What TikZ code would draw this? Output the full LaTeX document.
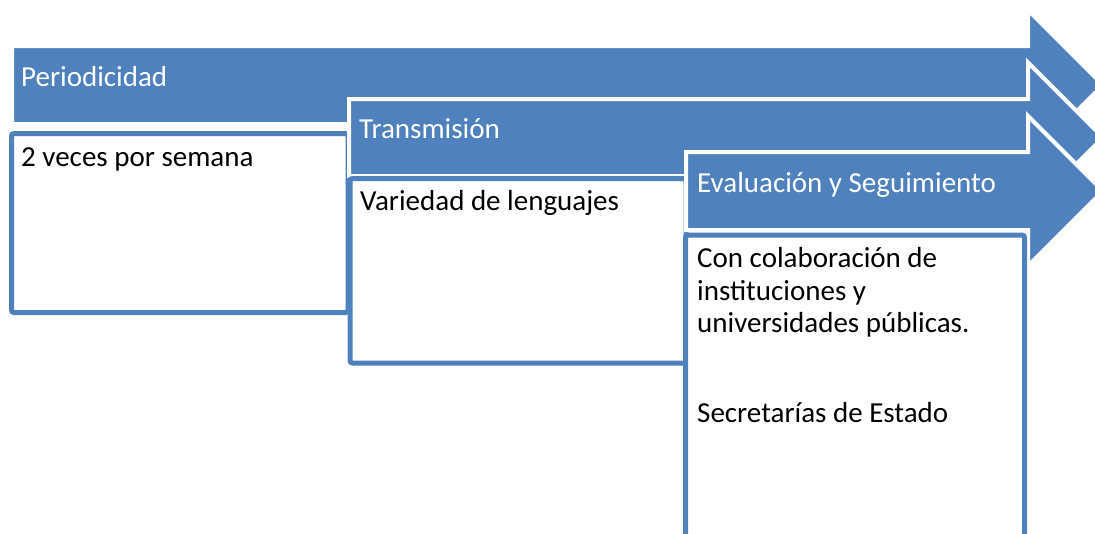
\documentclass[tikz,border=0pt]{standalone}
\usepackage{fontspec}
\setmainfont{Carlito}
\definecolor{accent}{RGB}{79,129,189}
\tikzset{
  arrowshape/.style={fill=accent, draw=white, line width=4pt, line join=miter},
  boxshape/.style={fill=white, draw=accent, line width=5pt, rounded corners=2.5pt},
  headtxt/.style={anchor=base west, inner sep=0pt, text=white, font=\fontsize{29}{35}\selectfont},
  bodytxt/.style={anchor=base west, inner sep=0pt, text=black, font=\fontsize{29}{35}\selectfont}
}
\begin{document}
\begin{tikzpicture}[x=1pt,y=-1pt]
\useasboundingbox (0,0) rectangle (1095,533);
\clip (0,0) rectangle (1095,533);
% arrow 1
\draw[arrowshape] (12,46) -- (1028,46) -- (1028,10) -- (1103,85) -- (1028,160) -- (1028,124) -- (12,124) -- cycle;
\draw[boxshape] (11.5,133.5) rectangle (348,312.5);
% arrow 2
\draw[arrowshape] (349,99) -- (1028,99) -- (1028,62.5) -- (1103,137.5) -- (1028,212.5) -- (1028,176) -- (349,176) -- cycle;
\draw[boxshape] (350,178.5) rectangle (686,363);
% arrow 3
\draw[arrowshape] (686,152) -- (1028,152) -- (1028,116) -- (1103,191) -- (1028,266) -- (1028,230) -- (686,230) -- cycle;
\draw[boxshape] (685.5,235) rectangle (1024.5,580);
% texts
\node[headtxt] (t1) at (21,86) {Periodicidad};
\node[bodytxt] (b1) at (21,166) {2 veces por semana};
\node[headtxt] (t2) at (359,138) {Transmisión};
\node[bodytxt] (b2) at (360,210) {Variedad de lenguajes};
\node[headtxt] (t3) at (697,192) {Evaluación y Seguimiento};
\node[bodytxt] (b3a) at (697,267) {Con colaboración de};
\node[bodytxt] (b3b) at (697,300) {instituciones y};
\node[bodytxt] (b3c) at (697,332) {universidades públicas.};
\node[bodytxt] (b3d) at (697,422) {Secretarías de Estado};
\end{tikzpicture}
\end{document}
